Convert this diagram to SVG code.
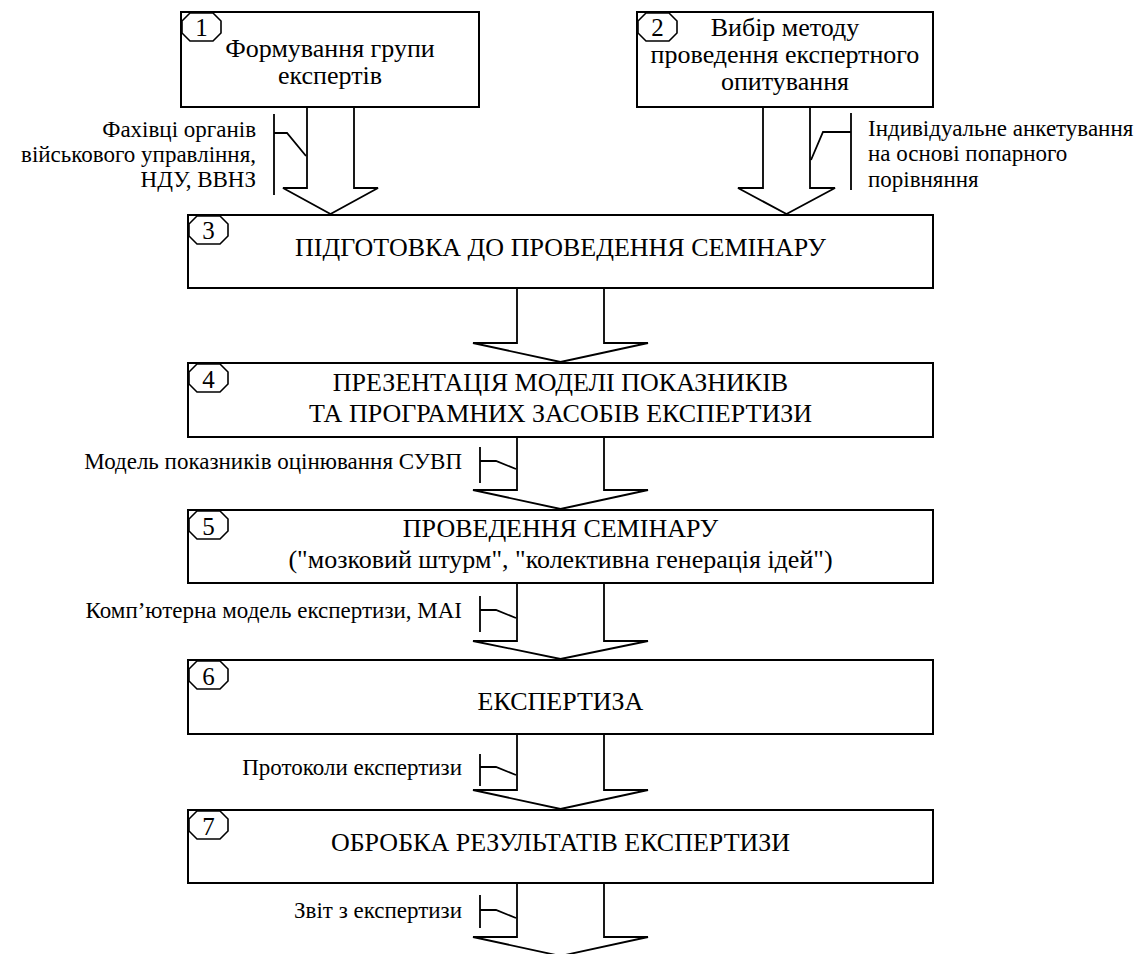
<svg xmlns="http://www.w3.org/2000/svg" width="1138" height="954" viewBox="0 0 1138 954">
<style>
.box{fill:#fff;stroke:#000;stroke-width:2}
.oct{fill:#fff;stroke:#000;stroke-width:1.6}
.arr{fill:none;stroke:#000;stroke-width:1.8;stroke-linejoin:miter}
.ld{fill:none;stroke:#000;stroke-width:1.8}
text{font-family:'Liberation Serif','Tinos','Times New Roman','DejaVu Serif',serif;fill:#000}
.t{font-size:26px;text-anchor:middle}
.n{font-size:25px;text-anchor:middle}
.l{font-size:23px}
.le{text-anchor:end}
</style>
<defs>
<polygon id="oct" class="oct" points="8,0 31,0 39,8 39,20 31,28 8,28 0,20 0,8"/>
</defs>
<rect width="1138" height="954" fill="#fff"/>

<g id="connectors">
<polyline class="arr" points="307,107 307,188 283,188 330.5,214 378,188 354,188 354,107"/>
<polyline class="arr" points="763,107 763,188 738,188 786.5,214 835,188 810,188 810,107"/>
<polyline class="arr" points="517,288 517,343 473,343 560.5,362 648,343 604,343 604,288"/>
<polyline class="arr" points="517,437 517,490 473,490 560.5,509 648,490 604,490 604,437"/>
<polyline class="arr" points="517,583 517,641 473,641 560.5,659 648,641 604,641 604,583"/>
<polyline class="arr" points="517,734 517,790 473,790 560.5,809 648,790 604,790 604,734"/>
<polyline class="arr" points="517,883 517,937 473,937 560.5,956 648,937 604,937 604,883"/>
</g>

<g id="label-1">
<polyline class="ld" points="274,114 274,195"/>
<polyline class="ld" points="274,133 287,133 306,156"/>
<text class="l le" x="256" y="137">Фахівці органів</text>
<text class="l le" x="256" y="162">військового управління,</text>
<text class="l le" x="256" y="187">НДУ, ВВНЗ</text>
</g>
<g id="label-2">
<polyline class="ld" points="851,113 851,190"/>
<polyline class="ld" points="851,132 823,132 811,160"/>
<text class="l" x="868" y="136">Індивідуальне анкетування</text>
<text class="l" x="868" y="161">на основі попарного</text>
<text class="l" x="868" y="187">порівняння</text>
</g>
<g id="label-4">
<polyline class="ld" points="480,447 480,483"/>
<polyline class="ld" points="480,461 496,461 516,469"/>
<text class="l le" x="462" y="469">Модель показників оцінювання СУВП</text>
</g>
<g id="label-5">
<polyline class="ld" points="480,596 480,632"/>
<polyline class="ld" points="480,610 496,610 516,618"/>
<text class="l le" x="462" y="618">Комп’ютерна модель експертизи, МАІ</text>
</g>
<g id="label-6">
<polyline class="ld" points="480,754 480,786"/>
<polyline class="ld" points="480,767 496,767 516,775"/>
<text class="l le" x="462" y="775">Протоколи експертизи</text>
</g>
<g id="label-7">
<polyline class="ld" points="480,895 480,928"/>
<polyline class="ld" points="480,910 496,910 516,918"/>
<text class="l le" x="462" y="918">Звіт з експертизи</text>
</g>

<g id="node-1">
<rect class="box" x="181" y="12" width="298" height="95"/>
<use href="#oct" x="182" y="13"/>
<text class="n" x="201.5" y="36">1</text>
<text class="t" x="330" y="57">Формування групи</text>
<text class="t" x="330" y="84">експертів</text>
</g>
<g id="node-2">
<rect class="box" x="637" y="12" width="296" height="95"/>
<use href="#oct" x="638" y="13"/>
<text class="n" x="657.5" y="36">2</text>
<text class="t" x="785" y="36">Вибір методу</text>
<text class="t" x="785" y="63">проведення експертного</text>
<text class="t" x="785" y="90">опитування</text>
</g>
<g id="node-3">
<rect class="box" x="188" y="215" width="745" height="73"/>
<use href="#oct" x="189" y="216"/>
<text class="n" x="208.5" y="239">3</text>
<text class="t" x="560.5" y="256">ПІДГОТОВКА ДО ПРОВЕДЕННЯ СЕМІНАРУ</text>
</g>
<g id="node-4">
<rect class="box" x="188" y="363" width="745" height="74"/>
<use href="#oct" x="189" y="364"/>
<text class="n" x="208.5" y="388">4</text>
<text class="t" x="560.5" y="391">ПРЕЗЕНТАЦІЯ МОДЕЛІ ПОКАЗНИКІВ</text>
<text class="t" x="560.5" y="422">ТА ПРОГРАМНИХ ЗАСОБІВ ЕКСПЕРТИЗИ</text>
</g>
<g id="node-5">
<rect class="box" x="188" y="510" width="745" height="73"/>
<use href="#oct" x="189" y="511"/>
<text class="n" x="208.5" y="535">5</text>
<text class="t" x="560.5" y="537">ПРОВЕДЕННЯ СЕМІНАРУ</text>
<text class="t" x="560.5" y="568">("мозковий штурм", "колективна генерація ідей")</text>
</g>
<g id="node-6">
<rect class="box" x="188" y="660" width="745" height="74"/>
<use href="#oct" x="189" y="661"/>
<text class="n" x="208.5" y="685">6</text>
<text class="t" x="560.5" y="710">ЕКСПЕРТИЗА</text>
</g>
<g id="node-7">
<rect class="box" x="188" y="810" width="745" height="73"/>
<use href="#oct" x="189" y="811"/>
<text class="n" x="208.5" y="835">7</text>
<text class="t" x="560.5" y="851">ОБРОБКА РЕЗУЛЬТАТІВ ЕКСПЕРТИЗИ</text>
</g>
</svg>
